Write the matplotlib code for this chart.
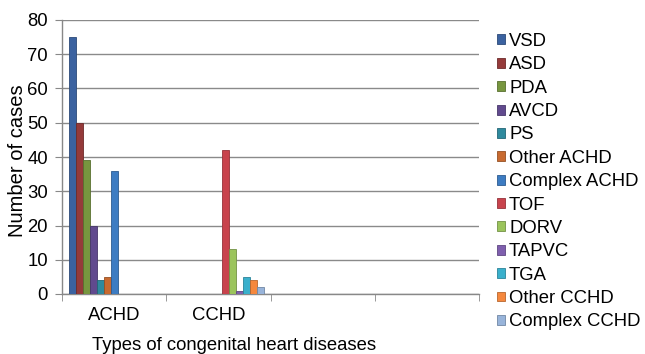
import matplotlib
matplotlib.use("Agg")
import matplotlib.pyplot as plt
from matplotlib.patches import Patch
import numpy as np

plt.rcParams['font.family'] = ['Liberation Sans', 'DejaVu Sans']

categories = ['ACHD', 'CCHD', '', '']
series = ['VSD', 'ASD', 'PDA', 'AVCD', 'PS', 'Other ACHD', 'Complex ACHD',
          'TOF', 'DORV', 'TAPVC', 'TGA', 'Other CCHD', 'Complex CCHD']
achd = [75, 50, 39, 20, 4, 5, 36, 0, 0, 0, 0, 0, 0]
cchd = [0, 0, 0, 0, 0, 0, 0, 42, 13, 1, 5, 4, 2]
empty3 = [0] * 13
empty4 = [0] * 13
colors = ['#3B62A0', '#953A3A', '#77963F', '#614A8E', '#2F8A9E', '#C86A30',
          '#3D7CC2', '#C8434D', '#9BC45C', '#7F5FAE', '#3AB0CC', '#F5883E', '#98B4DA']
edges = ['#2C4A78', '#6E2A2A', '#58702F', '#47376A', '#236676', '#955024',
         '#2D5C91', '#96323A', '#739245', '#5F4782', '#2B8499', '#B8662E', '#7187A4']

values = np.array([achd, cchd, empty3, empty4])  # categories x series

FS = 13.3
fig = plt.figure(figsize=(6.45, 3.54), dpi=100)
ax = fig.add_axes([62/645, 1 - 294/354, (479-62)/645, (294-20)/354])

n = len(series)
w = 7/104
x0 = np.arange(len(categories)) + 0.5
for j in range(n):
    ax.bar(x0 + (j - (n-1)/2) * w, values[:, j], width=w, color=colors[j],
           edgecolor=edges[j], linewidth=0.6, zorder=3)

ax.set_xlim(0, 4)
ax.set_ylim(0, 80)
ax.set_yticks(range(0, 81, 10))
ax.set_xticks(x0)
ax.set_xticklabels(categories, fontsize=FS)
ax.tick_params(axis='x', length=0, pad=9)
ax.set_xticks(range(0, 5), minor=True)
ax.tick_params(axis='x', which='minor', length=5, color='#888888', direction='out')
ax.tick_params(axis='y', length=5, color='#888888', labelsize=FS, pad=5)
ax.yaxis.grid(True, color='#8a8a8a', linewidth=1)
ax.set_axisbelow(True)
for s in ['top', 'right']:
    ax.spines[s].set_visible(False)
for s in ['left', 'bottom']:
    ax.spines[s].set_color('#888888')
    ax.spines[s].set_linewidth(1)

fig.text(18/645, 1 - 161/354, 'Number of cases', fontsize=14.5, rotation=90,
         ha='center', va='center')
fig.text(234/645, 1 - 346/354, 'Types of congenital heart diseases', fontsize=FS,
         ha='center', va='center')

handles = [Patch(facecolor=colors[j], edgecolor=edges[j], linewidth=0.6) for j in range(n)]
leg = fig.legend(handles, series, loc='upper left', bbox_to_anchor=(497/645, 1 - 33/354),
                 frameon=False, fontsize=FS, handlelength=0.45, handleheight=0.45,
                 handletextpad=0.2, labelspacing=0.345, borderaxespad=0, borderpad=0)

fig.savefig('out.png', dpi=100)
